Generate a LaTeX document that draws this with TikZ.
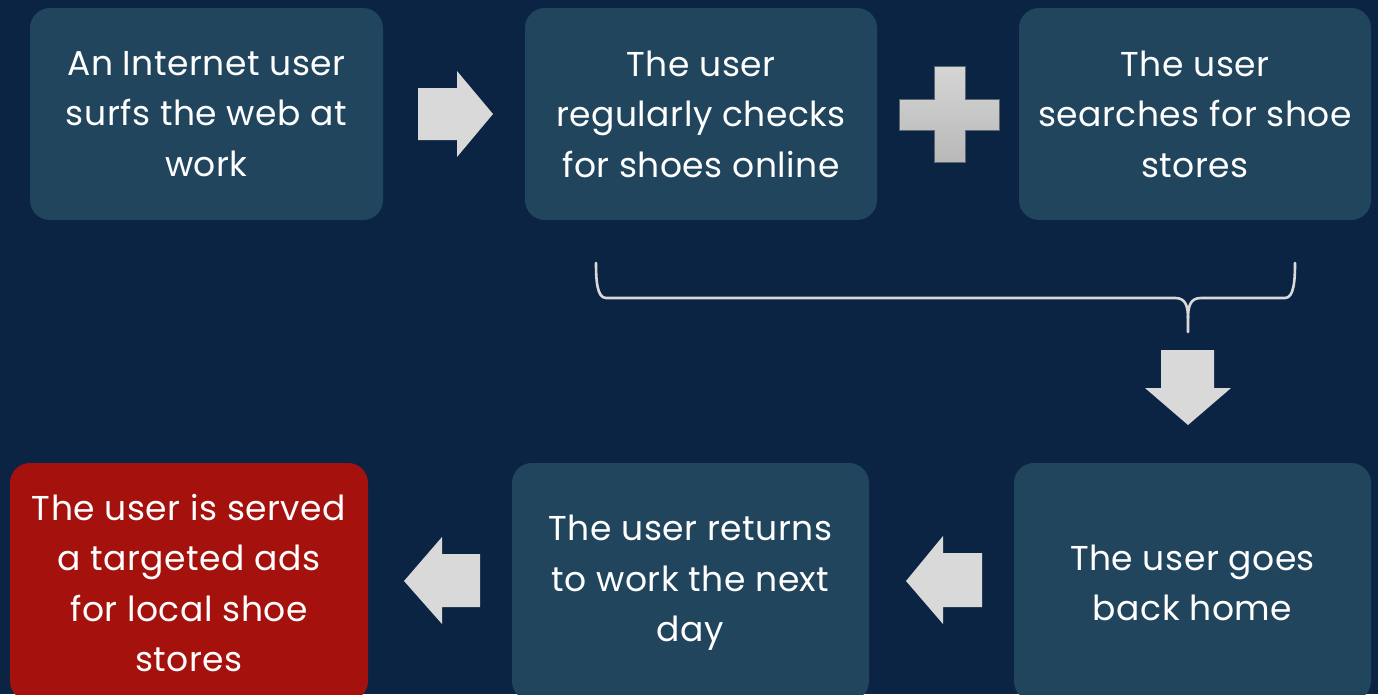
\documentclass[tikz,border=0pt]{standalone}
\usepackage{fontspec}
\setmainfont{Poppins}[LetterSpace=1.5]
\definecolor{bg}{HTML}{0B2444}
\definecolor{boxc}{HTML}{22455E}
\definecolor{redc}{HTML}{A5120D}
\definecolor{arr}{HTML}{D9D9D9}
\tikzset{
  stepbox/.style={rectangle, rounded corners=20pt, fill=boxc, inner sep=0pt},
  redbox/.style={stepbox, fill=redc},
  lbl/.style={text=white, align=center, font=\fontsize{34.5}{50.5}\selectfont, inner sep=0pt},
  blockarrow/.style={fill=arr, draw=none},
}
\begin{document}
\begin{tikzpicture}[x=1pt,y=-1pt]
\useasboundingbox (0,0) rectangle (1378,694);
\clip (0,0) rectangle (1378,694);
\fill[bg] (0,0) rectangle (1378,694);
% top row boxes
\node[stepbox, minimum width=353pt, minimum height=212pt] (b1) at (206.5,114) {};
\node[stepbox, minimum width=352pt, minimum height=212pt] (b2) at (701,114) {};
\node[stepbox, minimum width=352pt, minimum height=212pt] (b3) at (1195,114) {};
\node[lbl] (t1) at (b1.center) {An Internet user\\surfs the web at\\work};
\node[lbl] (t2) at (b2.center) {The user\\regularly checks\\for shoes online};
\node[lbl] (t3) at (b3.center) {The user\\searches for shoe\\stores};
% bottom row boxes
\node[redbox, minimum width=358pt, minimum height=238pt] (b6) at (189,582) {};
\node[stepbox, minimum width=357pt, minimum height=238pt] (b5) at (690.5,582) {};
\node[stepbox, minimum width=357pt, minimum height=238pt] (b4) at (1192.5,582) {};
\node[lbl] (t6) at (189,583) {The user is served\\a targeted ads\\for local shoe\\stores};
\node[lbl] (t5) at (690.5,583) {The user returns\\to work the next\\day};
\node[lbl] (t4) at (1192.5,583) {The user goes\\back home};
% right arrow b1 -> b2
\fill[blockarrow] (418,88) -- (457,88) -- (457,71) -- (493,114) -- (457,157) -- (457,140) -- (418,140) -- cycle;
% plus sign
\shade[top color=arr!110!white, bottom color=arr!85!black, draw=gray!60!boxc, line width=0.8pt]
  (934,66) -- (965,66) -- (965,99) -- (999,99) -- (999,130) -- (965,130) -- (965,162) -- (934,162) -- (934,130) -- (899,130) -- (899,99) -- (934,99) -- cycle;
% brace
\coordinate (bl) at (596,263);
\coordinate (br) at (1295,263);
\coordinate (bt) at (1188,332);
\draw[arr, line width=2.6pt, line cap=round, line join=round]
  (bl) .. controls (596,280) and (597,298) .. (606,298) -- (1175,298)
  .. controls (1185,298) and (1188,305) .. (1188,318) -- (bt);
\draw[arr, line width=2.6pt, line cap=round, line join=round]
  (br) .. controls (1295,280) and (1294,298) .. (1285,298) -- (1201,298)
  .. controls (1191,298) and (1188,305) .. (1188,318);
% down arrow
\fill[blockarrow] (1161,350) -- (1214,350) -- (1214,388) -- (1231,388) -- (1188,425) -- (1145,388) -- (1161,388) -- cycle;
% left arrow b4 -> b5
\fill[blockarrow] (982,553) -- (943,553) -- (943,536) -- (906,581) -- (943,624) -- (943,607) -- (982,607) -- cycle;
% left arrow b5 -> b6
\fill[blockarrow] (480,554) -- (442,554) -- (442,537) -- (404,581) -- (442,624) -- (442,607) -- (480,607) -- cycle;
\end{tikzpicture}
\end{document}
